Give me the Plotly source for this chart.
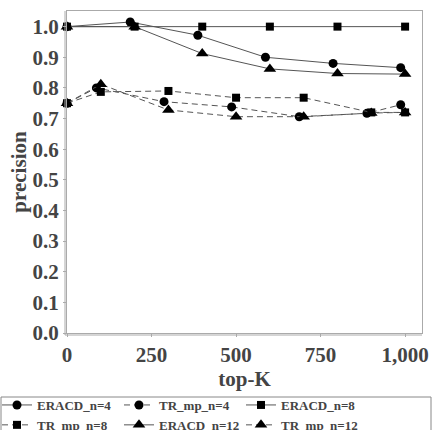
import plotly.graph_objects as go

# ---- data ----
eracd4_x = [0, 187, 387, 587, 787, 987]
eracd4_y = [1.0, 1.015, 0.972, 0.900, 0.880, 0.866]

trmp4_x = [0, 87, 287, 487, 687, 887, 987]
trmp4_y = [0.75, 0.800, 0.755, 0.738, 0.706, 0.717, 0.745]

eracd8_x = [0, 200, 400, 600, 800, 1000]
eracd8_y = [1.0, 1.0, 1.0, 1.0, 1.0, 1.0]

trmp8_x = [0, 100, 300, 500, 700, 900, 1000]
trmp8_y = [0.75, 0.787, 0.790, 0.768, 0.768, 0.720, 0.720]

eracd12_x = [0, 200, 400, 600, 800, 1000]
eracd12_y = [1.0, 1.0, 0.912, 0.862, 0.847, 0.845]

trmp12_x = [0, 100, 300, 500, 700, 900, 1000]
trmp12_y = [0.75, 0.812, 0.728, 0.706, 0.706, 0.718, 0.720]

x_ticks = [0, 250, 500, 750, 1000]

FONT = "Liberation Serif"
TXT = "#444444"
W, H = 432, 430
ML, MR, MT, MB = 67, 10, 11, 97
PW, PH = W - ML - MR, H - MT - MB

series = [
    ("ERACD_n=4", eracd4_x, eracd4_y, "circle", "solid", 9),
    ("TR_mp_n=4", trmp4_x, trmp4_y, "circle", "6px,4px", 9),
    ("ERACD_n=8", eracd8_x, eracd8_y, "square", "solid", 8),
    ("TR_mp_n=8", trmp8_x, trmp8_y, "square", "6px,4px", 8),
    ("ERACD_n=12", eracd12_x, eracd12_y, "triangle-up", "solid", 11),
    ("TR_mp_n=12", trmp12_x, trmp12_y, "triangle-up", "6px,4px", 11),
]

fig = go.Figure()
for name, xs, ys, sym, dash, size in series:
    fig.add_trace(go.Scatter(
        x=xs, y=ys, name=name, mode="lines+markers", cliponaxis=False,
        line=dict(color="#555555", width=1, dash=dash),
        marker=dict(symbol=sym, size=size, color="black"),
    ))

def px_x(p):
    return (p - ML) / PW

def px_y(p):
    return (H - MB - p) / PH

shapes = [
    # legend frame spanning full width
    dict(type="rect", xref="paper", yref="paper",
         x0=px_x(1), x1=px_x(431), y0=px_y(440), y1=px_y(397),
         line=dict(color="#888888", width=1), layer="below"),
    # extra outer axis lines (double-line look)
    dict(type="line", xref="paper", yref="paper",
         x0=px_x(65), x1=px_x(65), y0=px_y(335), y1=1,
         line=dict(color="#aaaaaa", width=1)),
    dict(type="line", xref="paper", yref="paper",
         x0=px_x(65), x1=1, y0=px_y(335), y1=px_y(335),
         line=dict(color="#aaaaaa", width=1)),
]

fig.update_layout(
    width=W, height=H,
    margin=dict(l=ML, r=MR, t=MT, b=MB, autoexpand=False),
    paper_bgcolor="white", plot_bgcolor="white",
    font=dict(family=FONT, color=TXT),
    showlegend=True,
    shapes=shapes,
    legend=dict(
        orientation="h", x=px_x(-3), xanchor="left", y=px_y(390), yanchor="top",
        font=dict(family=FONT, size=13, color=TXT, weight="bold"),
        borderwidth=0, bgcolor="rgba(0,0,0,0)",
        tracegroupgap=0, itemwidth=30,
        entrywidth=77, entrywidthmode="pixels",
    ),
)
fig.update_xaxes(
    range=[0, 1050], tickvals=x_ticks, tickformat=",",
    showgrid=False, zeroline=False, automargin=False,
    showline=True, linecolor="#aaaaaa", linewidth=1, mirror=True,
    ticks="outside", ticklen=3, tickcolor="#aaaaaa",
    tickfont=dict(family=FONT, size=21, color=TXT, weight="bold"),
    title=dict(text="top-K", font=dict(family=FONT, size=21, color=TXT, weight="bold"), standoff=2),
)
fig.update_yaxes(
    range=[0, 1.051], dtick=0.1, tickformat=".1f",
    showgrid=False, zeroline=False, automargin=False,
    showline=True, linecolor="#aaaaaa", linewidth=1, mirror=True,
    ticks="outside", ticklen=3, tickcolor="#aaaaaa",
    tickfont=dict(family=FONT, size=21, color=TXT, weight="bold"),
    title=dict(text="precision", font=dict(family=FONT, size=21, color=TXT, weight="bold"), standoff=0),
)

fig.write_html("out.html", config={"displayModeBar": False},
               post_script="document.body.style.margin='0px';document.body.style.overflow='hidden';")
